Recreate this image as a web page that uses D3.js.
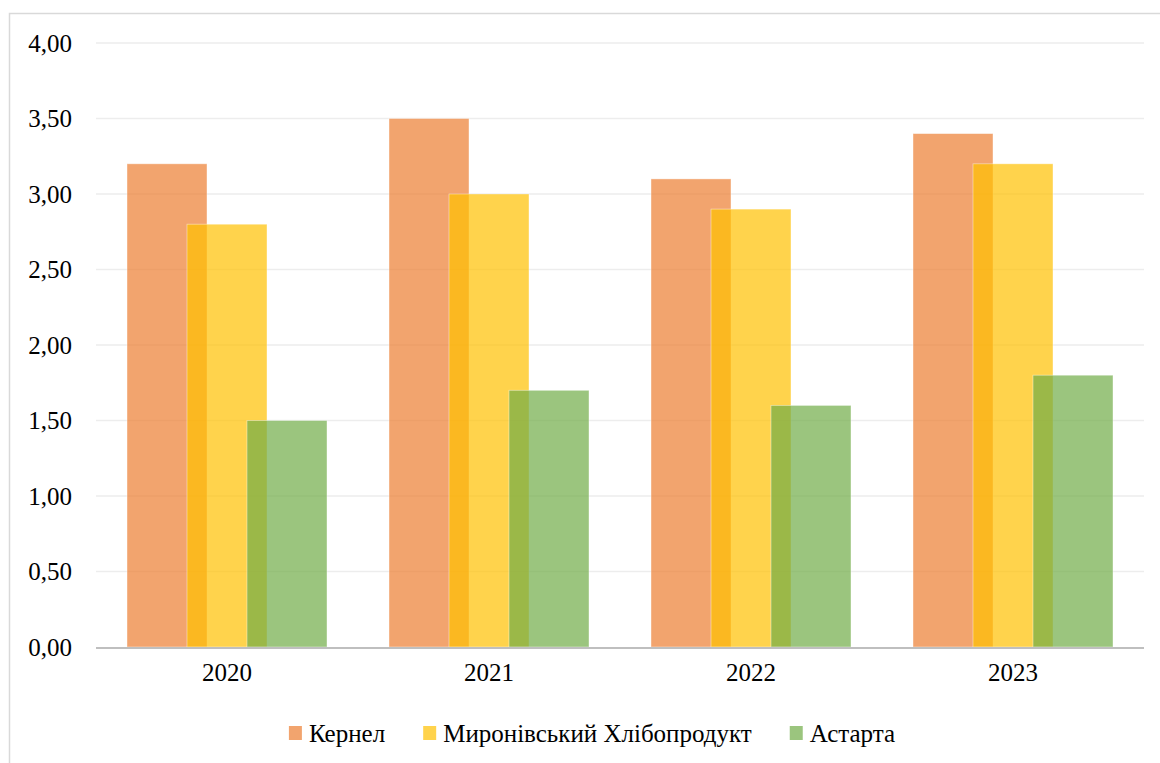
<!DOCTYPE html>
<html><head><meta charset="utf-8">
<script src="https://cdn.jsdelivr.net/npm/d3@7"></script>
</head><body style="margin:0">
<svg id="c" width="1160" height="763"></svg>
<script>
const categories = ["2020","2021","2022","2023"];
const seriesNames = ["Кернел","Миронівський Хлібопродукт","Астарта"];
const kernel = [3.2, 3.5, 3.1, 3.4];
const mhp = [2.8, 3.0, 2.9, 3.2];
const astarta = [1.5, 1.7, 1.6, 1.8];
const yTicks = [0,0.5,1,1.5,2,2.5,3,3.5,4];
const colors = ["#ED7D31","#FFC000","#70AD47"];
const series = [kernel, mhp, astarta];

(function(){
const svg = d3.select("#c");
const pL=96,pR=1144,pT=43,pB=647;
function styleText(sel){
  sel.attr("font-family","Liberation Serif").attr("font-size",25)
     .style("font-family","Liberation Serif").style("font-size","25px").attr("fill","#000");
}

svg.append("rect").attr("x",9.5).attr("y",13.5).attr("width",1200).attr("height",800)
  .attr("fill","#fff").attr("stroke","#D9D9D9").attr("stroke-width",1.5);

const x = d3.scaleBand().domain(categories).range([pL,pR]);
const y = d3.scaleLinear().domain([0,4]).range([pB,pT]);

svg.append("g").selectAll("line").data(yTicks.filter(d=>d>0)).join("line")
  .attr("x1",pL).attr("x2",pR).attr("y1",d=>y(d)).attr("y2",d=>y(d))
  .attr("stroke","#EDEDED").attr("stroke-width",1.5);

const yAxis = d3.axisLeft(y).tickValues(yTicks).tickSize(0).tickPadding(0)
  .tickFormat(d=>d.toFixed(2).replace(".",","));
const ga = svg.append("g").attr("transform","translate(72,0)").call(yAxis);
ga.select(".domain").remove();
styleText(ga.selectAll("text"));

const barW = 80, step = 60;
const groupW = barW + step*2;
series.forEach((vals,si)=>{
  svg.append("g").selectAll("rect").data(vals).join("rect")
    .attr("x",(d,i)=>x(categories[i]) + (x.bandwidth()-groupW)/2 + si*step)
    .attr("y",d=>y(d)).attr("width",barW).attr("height",d=>y(0)-y(d))
    .attr("fill",colors[si]).attr("fill-opacity",0.7)
    .attr("stroke","#fff").attr("stroke-opacity",0.5).attr("stroke-width",0.8);
});

svg.append("line").attr("x1",pL).attr("x2",pR).attr("y1",pB+1).attr("y2",pB+1)
  .attr("stroke","#BFBFBF").attr("stroke-width",2);

const xAxis = d3.axisBottom(x).tickSize(0).tickPadding(0);
const gx = svg.append("g").attr("transform","translate(0,"+(pB+16)+")").call(xAxis);
gx.select(".domain").remove();
styleText(gx.selectAll("text"));

const lg = svg.append("g");
let cx = 0;
seriesNames.forEach((n,i)=>{
  lg.append("rect").attr("x",cx).attr("y",-7).attr("width",13).attr("height",14)
    .attr("fill",colors[i]).attr("fill-opacity",0.7);
  const t = lg.append("text").attr("x",cx+20).attr("y",0).attr("dy","0.35em").text(n);
  styleText(t);
  const w = t.node().getComputedTextLength();
  cx += 20 + w + 38;
});
const totalW = cx - 38;
lg.attr("transform","translate("+(592-totalW/2)+",733)");
})();
</script>
</body></html>
